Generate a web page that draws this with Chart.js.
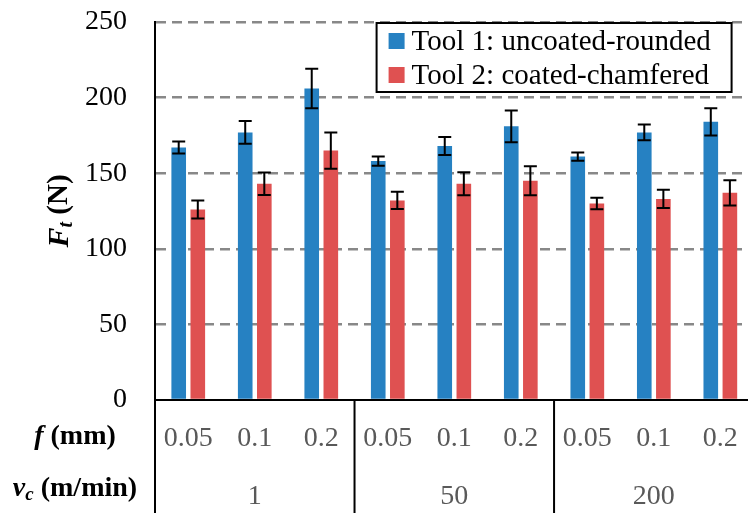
<!DOCTYPE html>
<html>
<head>
<meta charset="utf-8">
<script src="https://cdn.jsdelivr.net/npm/chart.js@4"></script>
<style>
  html, body { margin: 0; padding: 0; background: #fff; overflow: hidden; }
</style>
</head>
<body>
<canvas id="forceChart" width="760" height="513"></canvas>
<script>
const feedLabels = ['0.05', '0.1', '0.2', '0.05', '0.1', '0.2', '0.05', '0.1', '0.2'];
const speedGroups = ['1', '50', '200'];
const yTicks = [0, 50, 100, 150, 200, 250];

const tool1Values = [167, 177, 206, 158, 168, 181, 161, 177, 184];
const tool1Errors = [4, 7.5, 13, 3, 6, 10.5, 2.7, 5.2, 9];
const tool2Values = [126, 143, 165, 132, 143, 145, 130, 133, 137];
const tool2Errors = [6, 7.5, 12, 5.7, 7.6, 9.6, 3.8, 6, 8.4];

const serif = "'Liberation Serif', 'Times New Roman', serif";

// whiskers for each bar
const errorBars = {
    id: 'errorBars',
    afterDatasetsDraw(chart) {
        const ctx = chart.ctx;
        const y = chart.scales.y;
        chart.data.datasets.forEach((ds, i) => {
            const meta = chart.getDatasetMeta(i);
            meta.data.forEach((bar, j) => {
                const top = y.getPixelForValue(ds.data[j] + ds.errors[j]);
                const bot = y.getPixelForValue(ds.data[j] - ds.errors[j]);
                ctx.save();
                ctx.strokeStyle = '#000';
                ctx.lineWidth = 2;
                ctx.beginPath();
                ctx.moveTo(bar.x, top); ctx.lineTo(bar.x, bot);
                ctx.moveTo(bar.x - 6.5, top); ctx.lineTo(bar.x + 6.5, top);
                ctx.moveTo(bar.x - 6.5, bot); ctx.lineTo(bar.x + 6.5, bot);
                ctx.stroke();
                ctx.restore();
            });
        });
    }
};

// draw a run of text pieces with their own fonts / offsets
function drawPieces(ctx, pieces, x, y) {
    let w = 0;
    pieces.forEach(p => { ctx.font = p.font; w += ctx.measureText(p.text).width; });
    let cx = x - w / 2;
    pieces.forEach(p => {
        ctx.font = p.font;
        ctx.fillText(p.text, cx, y + (p.dy || 0));
        cx += ctx.measureText(p.text).width;
    });
}

const extras = {
    id: 'extras',
    afterDraw(chart) {
        const ctx = chart.ctx;
        const area = chart.chartArea;
        const x = chart.scales.x;
        const H = chart.height;

        ctx.save();
        // vertical separators under the axis
        ctx.strokeStyle = '#000';
        ctx.lineWidth = 2;
        ctx.beginPath();
        ctx.moveTo(area.left, area.bottom); ctx.lineTo(area.left, H);
        for (let g = 1; g <= speedGroups.length; g++) {
            const i = g * 3;
            const px = i < feedLabels.length
                ? (x.getPixelForValue(i - 1) + x.getPixelForValue(i)) / 2
                : area.right;
            ctx.moveTo(px, area.bottom); ctx.lineTo(px, H);
        }
        ctx.stroke();

        // speed group labels
        ctx.fillStyle = '#595959';
        ctx.font = '28px ' + serif;
        ctx.textAlign = 'center';
        ctx.textBaseline = 'middle';
        speedGroups.forEach((lab, g) => {
            const px = x.getPixelForValue(g * 3 + 1);
            ctx.fillText(lab, px, 497);
        });

        // row headers
        ctx.fillStyle = '#000';
        ctx.textAlign = 'left';
        drawPieces(ctx, [
            { text: 'f', font: 'italic bold 28px ' + serif },
            { text: ' (mm)', font: 'bold 28px ' + serif }
        ], 75, 437);
        drawPieces(ctx, [
            { text: 'v', font: 'italic bold 28px ' + serif },
            { text: 'c', font: 'italic bold 19px ' + serif, dy: 6 },
            { text: ' (m/min)', font: 'bold 28px ' + serif }
        ], 75, 489);

        // y axis title
        ctx.save();
        ctx.translate(60, 211);
        ctx.rotate(-Math.PI / 2);
        drawPieces(ctx, [
            { text: 'F', font: 'italic bold 30px ' + serif },
            { text: 't', font: 'italic bold 20px ' + serif, dy: 7 },
            { text: ' (N)', font: 'bold 29px ' + serif }
        ], 0, 0);
        ctx.restore();

        // legend box
        const lw = 355, lh = 69;
        const lx = area.right - 22 - lw, ly = area.top + 1;
        ctx.fillStyle = '#fff';
        ctx.fillRect(lx, ly, lw, lh);
        ctx.strokeStyle = '#000';
        ctx.lineWidth = 2;
        ctx.strokeRect(lx, ly, lw, lh);
        ctx.font = '29px ' + serif;
        ctx.textAlign = 'left';
        chart.data.datasets.forEach((ds, i) => {
            const cy = ly + 18 + i * 34;
            ctx.fillStyle = ds.backgroundColor;
            ctx.fillRect(lx + 12, cy - 8, 16, 16);
            ctx.fillStyle = '#000';
            ctx.fillText(ds.label, lx + 35, cy + 1);
        });
        ctx.restore();
    }
};

new Chart(document.getElementById('forceChart').getContext('2d'), {
    type: 'bar',
    data: {
        labels: feedLabels,
        datasets: [{
            label: 'Tool 1: uncoated-rounded',
            data: tool1Values,
            errors: tool1Errors,
            backgroundColor: '#2681c2',
            categoryPercentage: 0.574,
            barPercentage: 0.766
        }, {
            label: 'Tool 2: coated-chamfered',
            data: tool2Values,
            errors: tool2Errors,
            backgroundColor: '#df5151',
            categoryPercentage: 0.574,
            barPercentage: 0.766
        }]
    },
    options: {
        responsive: false,
        devicePixelRatio: 1,
        animation: false,
        layout: { padding: { top: 22, right: 3, left: 0, bottom: 0 } },
        plugins: {
            legend: { display: false },
            tooltip: { enabled: false }
        },
        scales: {
            x: {
                grid: { display: false, drawTicks: false },
                border: { display: true, color: '#000', width: 2 },
                ticks: {
                    color: '#595959',
                    font: { family: serif, size: 28 },
                    padding: 22,
                    maxRotation: 0,
                    autoSkip: false
                },
                afterFit(scale) {
                    scale.height = 113;
                    scale.paddingTop = 0; scale.paddingBottom = 0;
                }
            },
            y: {
                min: 0,
                max: 250,
                afterBuildTicks(scale) { scale.ticks = yTicks.map(v => ({ value: v })); },
                ticks: {
                    color: '#000',
                    font: { family: serif, size: 28 },
                    padding: 28
                },
                grid: {
                    color: ctx => ctx.tick && ctx.tick.value === 0 ? 'rgba(0,0,0,0)' : '#888888',
                    lineWidth: 2.5,
                    drawTicks: false
                },
                border: { display: true, color: '#000', width: 2, dash: [10, 6] },
                afterFit(scale) {
                    scale.width = 155;
                    scale.paddingTop = 0; scale.paddingBottom = 0;
                }
            }
        }
    },
    plugins: [errorBars, extras]
});
</script>
</body>
</html>
